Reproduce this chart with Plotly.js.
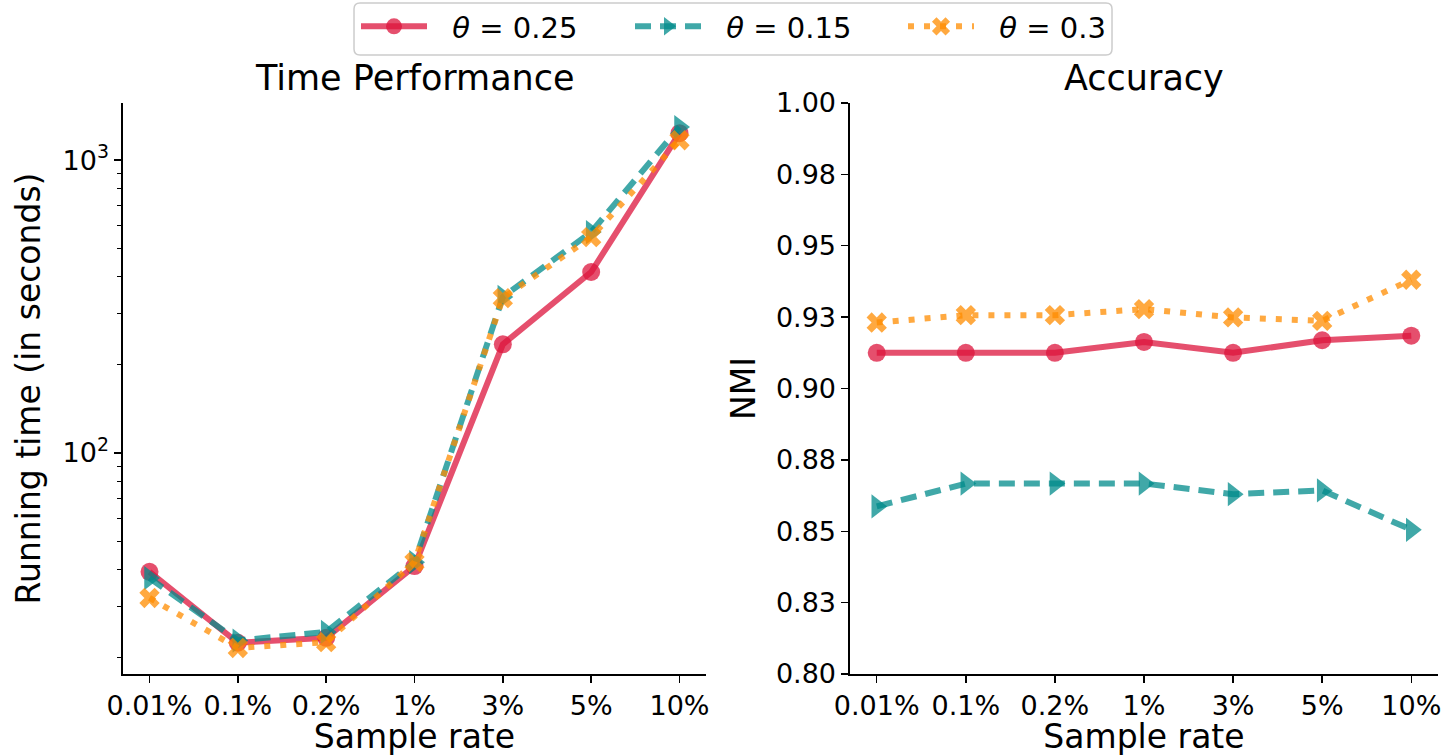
<!DOCTYPE html>
<html>
<head>
<meta charset="utf-8">
<script src="https://cdn.plot.ly/plotly-3.0.1.min.js"></script>
<style>html,body{margin:0;padding:0;background:#fff;}#chart{width:1448px;height:756px;}</style>
</head>
<body>
<div id="chart"></div>
<script>
// ---- data ----
const rates = ["0.01%", "0.1%", "0.2%", "1%", "3%", "5%", "10%"];
const seriesNames = ["<i>θ</i> = 0.25", "<i>θ</i> = 0.15", "<i>θ</i> = 0.3"];
const time_025 = [39.3, 22.5, 23.4, 41.1, 235, 415, 1236];
const time_015 = [37.4, 22.9, 24.5, 42.4, 341, 568, 1297];
const time_03  = [32.0, 21.6, 22.6, 42.4, 338, 546, 1169];
const nmi_025 = [0.9125, 0.9125, 0.9125, 0.9163, 0.9125, 0.9169, 0.9185];
const nmi_015 = [0.8587, 0.8667, 0.8667, 0.8667, 0.8630, 0.8643, 0.8505];
const nmi_03  = [0.9231, 0.9257, 0.9257, 0.9278, 0.9249, 0.9237, 0.9381];
const logTickVals = [100, 1000];
const logTickText = ["10<sup>2</sup>", "10<sup>3</sup>"];
const nmiTickVals = [0.8, 0.825, 0.85, 0.875, 0.9, 0.925, 0.95, 0.975, 1.0];
const nmiTickText = ["0.80", "0.83", "0.85", "0.88", "0.90", "0.93", "0.95", "0.98", "1.00"];

// ---- styles ----
const FONT = "DejaVu Sans, Liberation Sans, sans-serif";
const W = 1448, H = 756;
const styles = [
  {color: "rgba(220,20,60,0.75)", dash: "solid", symbol: "circle", size: 18, legend: "legend", lx: 356},
  {color: "rgba(0,139,139,0.75)", dash: "16px,9px", symbol: "triangle-right", size: 21, legend: "legend2", lx: 630},
  {color: "rgba(255,140,0,0.75)", dash: "6px,10px", symbol: "x", size: 18, legend: "legend3", lx: 903}
];
const timeData = [time_025, time_015, time_03];
const nmiData = [nmi_025, nmi_015, nmi_03];
const LEGEND_PAD = "\u2002\u2009";

const traces = [];
timeData.forEach((ys, i) => {
  const s = styles[i];
  traces.push({
    x: rates, y: ys, xaxis: "x", yaxis: "y", type: "scatter", mode: "lines+markers",
    name: LEGEND_PAD + seriesNames[i], showlegend: true, legend: s.legend,
    line: {color: s.color, width: 6, dash: s.dash},
    marker: {color: s.color, symbol: s.symbol, size: s.size, line: {width: 0}}
  });
});
nmiData.forEach((ys, i) => {
  const s = styles[i];
  traces.push({
    x: rates, y: ys, xaxis: "x2", yaxis: "y2", type: "scatter", mode: "lines+markers",
    name: seriesNames[i], showlegend: false,
    line: {color: s.color, width: 6, dash: s.dash},
    marker: {color: s.color, symbol: s.symbol, size: s.size, line: {width: 0}}
  });
});

const minorLog = [];
[10, 100].forEach(b => { for (let k = 2; k <= 9; k++) minorLog.push(k * b); });

const axisCommon = {
  showgrid: false, zeroline: false, showline: true, linecolor: "#000", linewidth: 1.6,
  ticks: "outside", ticklen: 7, tickwidth: 1.4, tickcolor: "#000",
  tickfont: {family: FONT, size: 27, color: "#000"}, mirror: false
};
const titleFont = {family: FONT, size: 33, color: "#000"};

function legendCfg(x) {
  return {
    orientation: "h", x: x / W, xanchor: "left", y: 1 - 1 / H, yanchor: "top",
    bgcolor: "rgba(0,0,0,0)", borderwidth: 0,
    font: {family: FONT, size: 29, color: "#000"},
    itemwidth: 66, itemclick: false, itemdoubleclick: false
  };
}

// rounded legend frame (pixel coords -> paper)
const bx0 = 354, bx1 = 1112, by0 = 3, by1 = 55, br = 6;
const px = v => (v / W).toFixed(5), py = v => (1 - v / H).toFixed(5);
const framePath =
  "M" + px(bx0 + br) + "," + py(by0) + " L" + px(bx1 - br) + "," + py(by0) +
  " Q" + px(bx1) + "," + py(by0) + " " + px(bx1) + "," + py(by0 + br) +
  " L" + px(bx1) + "," + py(by1 - br) +
  " Q" + px(bx1) + "," + py(by1) + " " + px(bx1 - br) + "," + py(by1) +
  " L" + px(bx0 + br) + "," + py(by1) +
  " Q" + px(bx0) + "," + py(by1) + " " + px(bx0) + "," + py(by1 - br) +
  " L" + px(bx0) + "," + py(by0 + br) +
  " Q" + px(bx0) + "," + py(by0) + " " + px(bx0 + br) + "," + py(by0) + " Z";

const layout = {
  width: W, height: H,
  margin: {l: 0, r: 0, t: 0, b: 0},
  paper_bgcolor: "#fff", plot_bgcolor: "#fff",
  font: {family: FONT, color: "#000"},
  showlegend: true,
  legend: legendCfg(styles[0].lx),
  legend2: legendCfg(styles[1].lx),
  legend3: legendCfg(styles[2].lx),
  shapes: [{type: "path", xref: "paper", yref: "paper", path: framePath,
            line: {color: "#cccccc", width: 1.5}, fillcolor: "rgba(255,255,255,0.8)", layer: "above"}],
  xaxis: Object.assign({}, axisCommon, {
    type: "category", domain: [123 / W, 706 / W], range: [-0.3, 6.3], anchor: "y",
    title: {text: "Sample rate", font: titleFont, standoff: 9}
  }),
  yaxis: Object.assign({}, axisCommon, {
    type: "log", domain: [1 - 674 / H, 1 - 103 / H], anchor: "x",
    range: [Math.log10(17.6), Math.log10(1567)],
    tickvals: logTickVals, ticktext: logTickText,
    minor: {tickvals: minorLog, ticks: "outside", ticklen: 4, tickwidth: 1, tickcolor: "#000"},
    title: {text: "Running time (in seconds)", font: titleFont, standoff: 12}
  }),
  xaxis2: Object.assign({}, axisCommon, {
    type: "category", domain: [850 / W, 1438 / W], range: [-0.3, 6.3], anchor: "y2",
    title: {text: "Sample rate", font: titleFont, standoff: 9}
  }),
  yaxis2: Object.assign({}, axisCommon, {
    domain: [1 - 674 / H, 1 - 103 / H], anchor: "x2", range: [0.8, 1.0],
    tickvals: nmiTickVals, ticktext: nmiTickText,
    title: {text: "NMI", font: titleFont, standoff: 10}
  }),
  annotations: [
    {text: "Time Performance", xref: "paper", yref: "paper", x: (123 + 706) / 2 / W, y: 1 - 78 / H,
     xanchor: "center", yanchor: "middle", showarrow: false, font: {family: FONT, size: 35, color: "#000"}},
    {text: "Accuracy", xref: "paper", yref: "paper", x: (850 + 1438) / 2 / W, y: 1 - 78 / H,
     xanchor: "center", yanchor: "middle", showarrow: false, font: {family: FONT, size: 35, color: "#000"}}
  ]
};

Plotly.newPlot("chart", traces, layout, {staticPlot: true, displayModeBar: false});
</script>
</body>
</html>
